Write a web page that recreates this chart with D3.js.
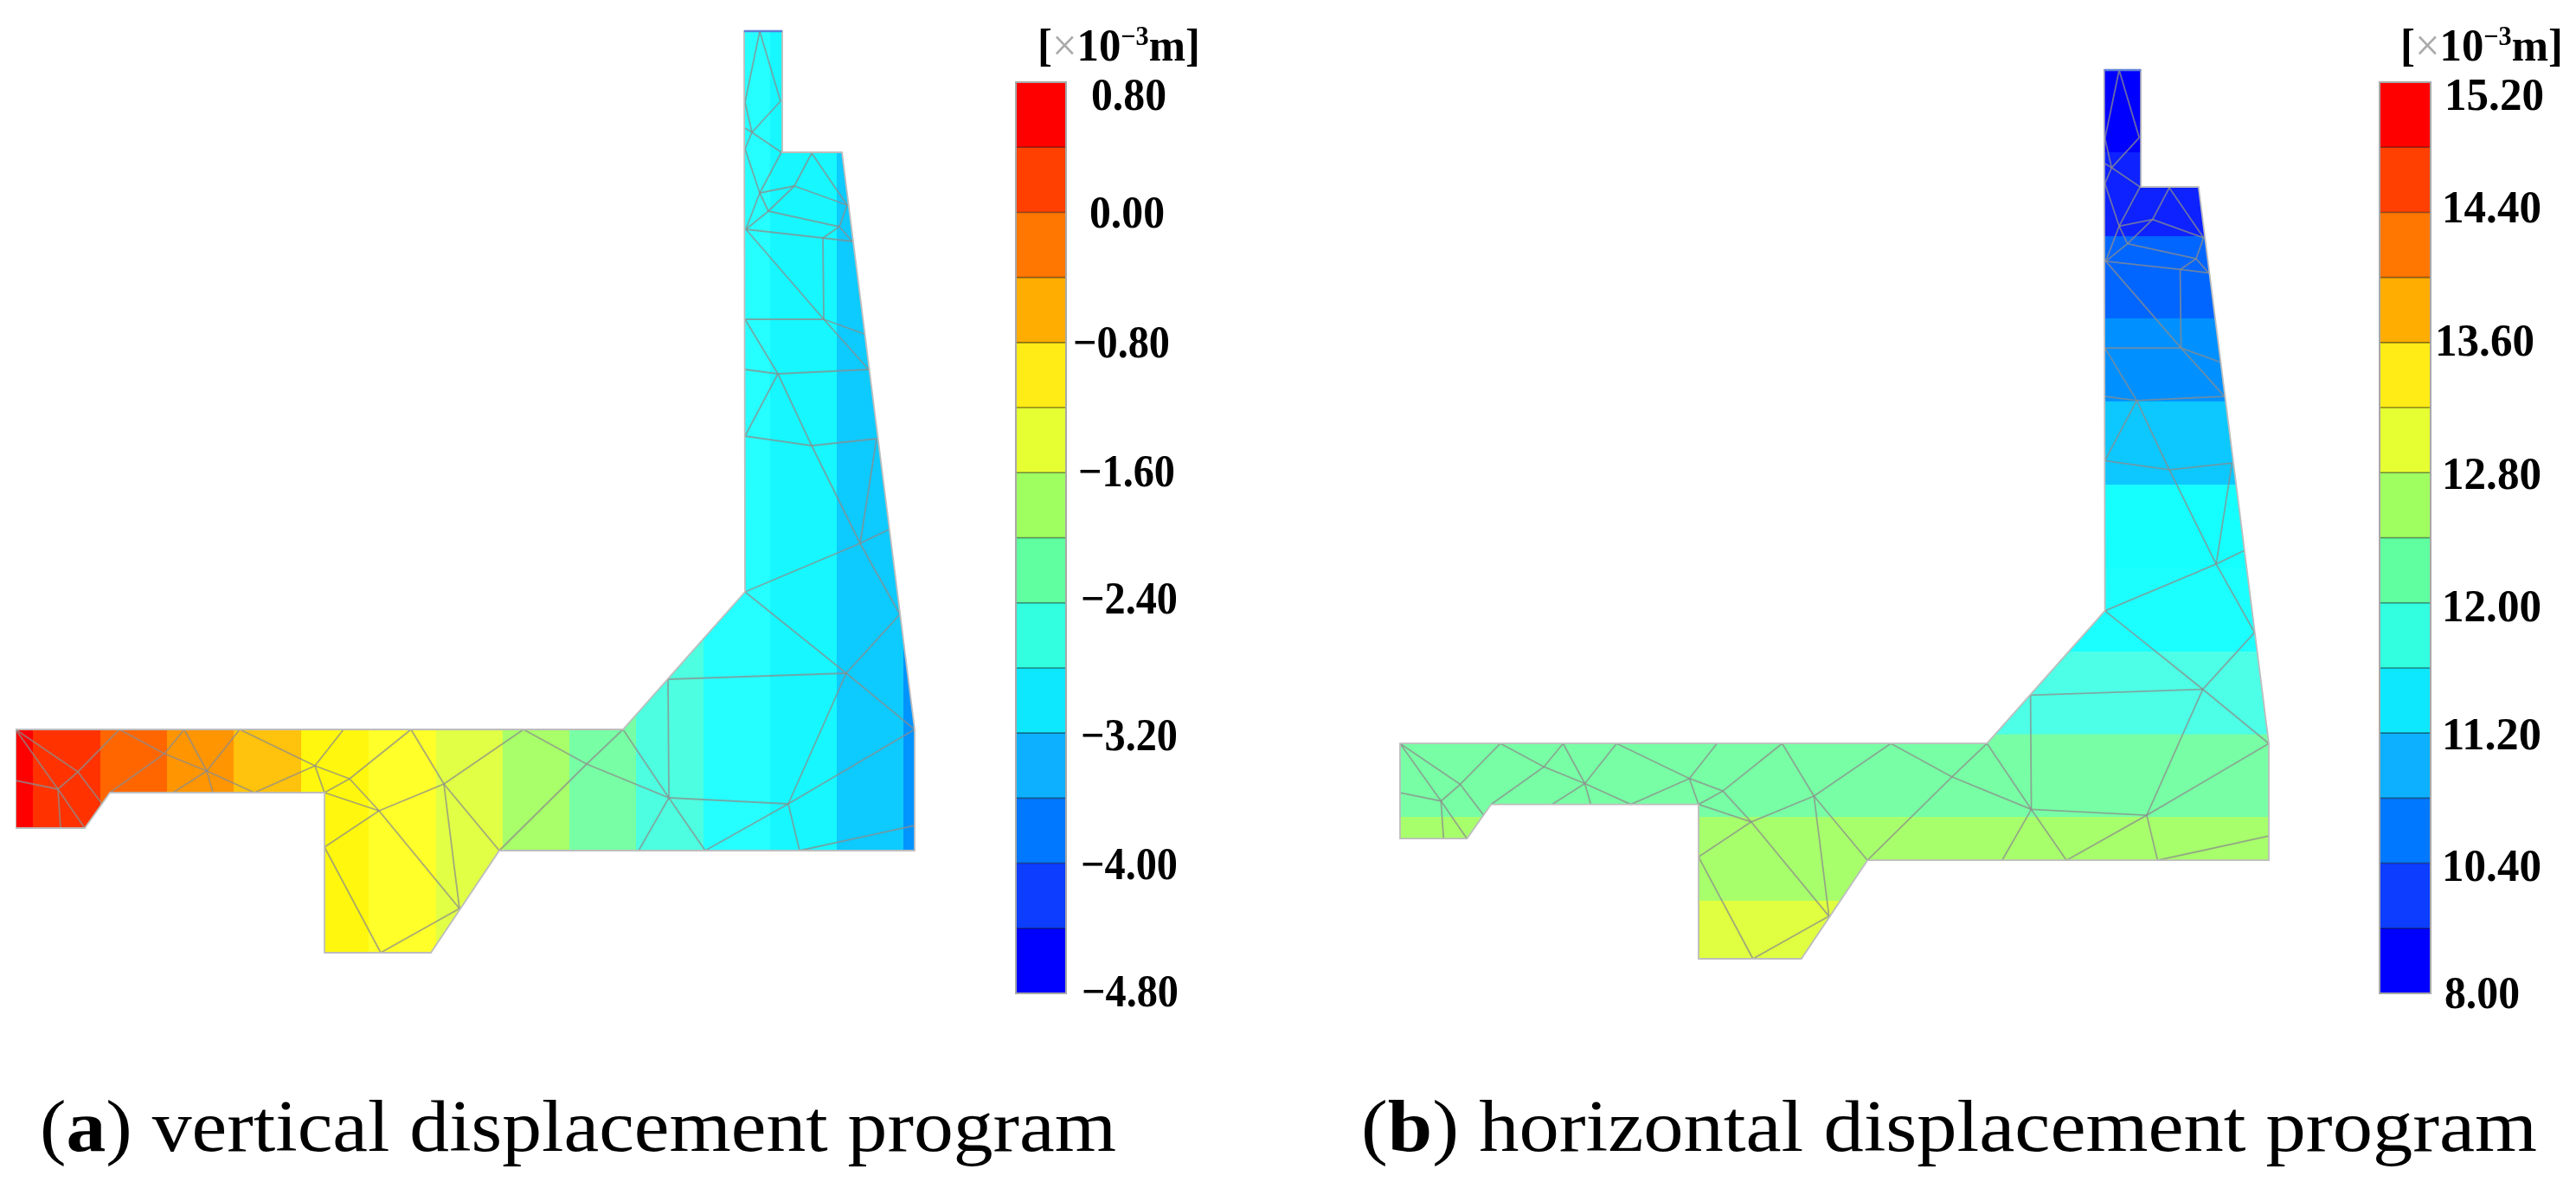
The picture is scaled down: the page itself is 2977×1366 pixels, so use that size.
<!DOCTYPE html>
<html lang="en">
<head>
    <meta charset="UTF-8">
    <title>Vertical and horizontal displacement</title>
    <script src="https://d3js.org/d3.v7.min.js"></script>
    <style>
        body { margin: 0; background: #fff; }
        svg { display: block; }
        text { font-family: "Liberation Serif", serif; fill: #000; }
        .tick-label { font-size: 52px; font-weight: bold; }
        .unit { font-size: 52px; font-weight: bold; }
        .caption { font-size: 84px; }
        .mesh { stroke: #8c8c8c; stroke-width: 1.8; stroke-opacity: 0.75; }
        .outline { fill: none; stroke: #bdbdbd; stroke-width: 1.8; }
    </style>
</head>
<body>
    <svg id="chart" width="2977" height="1366">
        <defs>
            <filter id="soft" x="0" y="0" width="100%" height="100%">
                <feGaussianBlur stdDeviation="0.7"></feGaussianBlur>
            </filter>
        </defs>
    </svg>

    <script>
        // dam section in model units
        const outline = [
            [860,36],[904,36],[904,176],[973,176],[1057,843],[1057,983],[577,983],[498,1101],
            [375,1101],[375,916],[127,916],[98,957],[18,957],[18,843],[720,843],[861,684]
        ];

        const meshNodes = {
            A:[878,36], B:[902,117], C:[861,118], D:[869,153], E:[861,148], F:[861,172], G:[903,176],
            H:[878,223], I:[938,177], J:[918,215], K:[979,237], L:[888,244], M:[970,262], N:[862,265],
            O:[951,275], P:[985,279], Q:[952,369], R:[861,369], S:[999,386], T:[1004,427], U:[899,432],
            V:[861,427], W:[861,504], X:[938,515], Y:[1013,507], Z:[994,628], AA:[1027,612], BB:[861,684],
            CC:[1040,710], DD:[978,778], EE:[1057,843], FF:[772,785], GG:[720,843], HH:[773,922],
            II:[678,883], JJ:[577,983], KK:[605,843], LL:[738,983], MM:[815,983], NN:[911,929],
            OO:[924,983], PP:[1057,954],
            a0:[18,843], a1:[90,892], a2:[67,912], a3:[18,902], a4:[138,843], a5:[190,871], a6:[118,929],
            a7:[70,957], a8:[98,957], a9:[213,843], a10:[239,891], a11:[277,843], a12:[364,885],
            a13:[200,916], a14:[246,916], a15:[294,916], a16:[397,843], a17:[404,900], a18:[375,916],
            a19:[127,916], a20:[475,843], a21:[438,937], a22:[531,1050], a23:[513,906], a25:[375,979],
            a26:[440,1101]
        };

        const meshEdges = [
            "A-C","A-B","C-D","B-D","E-D","F-D","D-G","F-H","G-H","I-J","H-J","J-K","I-K","H-L","J-L",
            "L-M","K-M","N-H","N-L","N-O","M-O","O-P","M-P","O-Q","N-Q","R-Q","Q-S","Q-T","R-U","V-U",
            "U-T","W-U","U-X","W-X","X-Y","X-Z","Y-Z","Z-AA","BB-Z","Z-CC","BB-DD","CC-DD","DD-EE",
            "DD-FF","FF-HH","GG-HH","GG-II","II-HH","II-JJ","II-KK","HH-LL","HH-MM","HH-NN","MM-NN",
            "NN-DD","NN-EE","NN-OO","OO-PP",
            "a0-a1","a0-a2","a3-a2","a1-a2","a4-a1","a4-a5","a1-a6","a5-a19","a2-a7","a2-a8","a9-a5",
            "a9-a10","a5-a10","a11-a10","a11-a12","a10-a13","a10-a14","a10-a15","a15-a12","a16-a12",
            "a12-a17","a12-a18","a18-a17","a17-a20","a18-a21","a17-a21","a21-a22","a21-a23","a20-a23",
            "a23-KK","a23-JJ","a23-a22","a21-a25","a25-a26","a22-a26"
        ];

        // contour bands
        const verticalEdges = [18,38,116,193,270,348,426,504,581,658,735,813,890,967,1044,1057];
        const verticalColors = ["#ff0000","#ff3300","#ff6600","#ff9500","#ffc20d","#fff70a","#ffff2b",
            "#e0ff44","#a8ff6a","#78ffa5","#4dffe0","#26ffff","#14f7ff","#0ccaff","#0094ff"];

        const horizontalEdges = [36,134.5,235,333.6,433,533,632,733,832,931,1031.5,1101];
        const horizontalColors = ["#0000ff","#0a20ff","#0066ff","#0090ff","#0ac8ff","#14ffff","#1effff",
            "#4dffe6","#78ffa5","#a8ff6c","#e0ff40"];

        // colour bars
        const legendColors = ["#ff0000","#ff4000","#ff7700","#ffad00","#ffeb14","#e6ff33","#a0ff60",
            "#60ff9f","#30ffe0","#10e8ff","#08b0ff","#0078ff","#0a3cff","#0000ff"];
        const verticalTicks = [0.8,0,-0.8,-1.6,-2.4,-3.2,-4,-4.8];
        const horizontalTicks = [15.2,14.4,13.6,12.8,12,11.2,10.4,8];

        const svg = d3.select("#chart");
        const fmt = v => (v < 0 ? "\u2212" : "") + d3.format(".2f")(Math.abs(v));

        function drawPanel(p) {
            const x = d3.scaleLinear().domain([18,1057]).range(p.xRange);
            const y = d3.scaleLinear().domain([36,1101]).range(p.yRange);
            const g = svg.append("g").attr("filter", "url(#soft)");
            const line = d3.line().x(d => x(d[0])).y(d => y(d[1])).curve(d3.curveLinearClosed);

            g.append("clipPath").attr("id", p.id)
                .append("path").attr("d", line(outline));

            const bands = g.append("g").attr("clip-path", `url(#${p.id})`);
            const cells = d3.pairs(p.edges).map((e, i) => ({ from: e[0], to: e[1], color: p.colors[i] }));
            if (p.dir === "x") {
                bands.selectAll("rect").data(cells).enter().append("rect")
                    .attr("x", d => x(d.from))
                    .attr("width", d => x(d.to) - x(d.from) + 0.5)
                    .attr("y", y(36)).attr("height", y(1101) - y(36))
                    .attr("fill", d => d.color);
            } else {
                bands.selectAll("rect").data(cells).enter().append("rect")
                    .attr("y", d => y(d.from))
                    .attr("height", d => y(d.to) - y(d.from) + 0.5)
                    .attr("x", x(18)).attr("width", x(1057) - x(18))
                    .attr("fill", d => d.color);
            }

            g.selectAll(".mesh").data(meshEdges).enter().append("line")
                .attr("class", "mesh")
                .attr("x1", d => x(meshNodes[d.split("-")[0]][0]))
                .attr("y1", d => y(meshNodes[d.split("-")[0]][1]))
                .attr("x2", d => x(meshNodes[d.split("-")[1]][0]))
                .attr("y2", d => y(meshNodes[d.split("-")[1]][1]));

            g.append("path").attr("class", "outline").attr("d", line(outline));

            // crest line is darker than the rest of the outline
            g.append("line")
                .attr("x1", x(860)).attr("x2", x(904))
                .attr("y1", y(36)).attr("y2", y(36))
                .attr("stroke", "#5f80d8").attr("stroke-width", 2.5);

            // colour bar
            const barTop = 95, barBottom = 1148;
            const idx = d3.scaleLinear().domain([0, legendColors.length]).range([barTop, barBottom]);
            const bar = g.append("g");
            bar.selectAll("rect").data(legendColors).enter().append("rect")
                .attr("x", p.barX).attr("width", p.barW)
                .attr("y", (d, i) => idx(i))
                .attr("height", (d, i) => idx(i + 1) - idx(i))
                .attr("fill", d => d);
            bar.selectAll("line").data(d3.range(1, legendColors.length)).enter().append("line")
                .attr("x1", p.barX).attr("x2", p.barX + p.barW)
                .attr("y1", d => idx(d)).attr("y2", d => idx(d))
                .attr("stroke", "#000").attr("stroke-opacity", 0.45).attr("stroke-width", 1.6);
            bar.append("rect")
                .attr("x", p.barX).attr("y", barTop)
                .attr("width", p.barW).attr("height", barBottom - barTop)
                .attr("fill", "none").attr("stroke", "#a8a8a8").attr("stroke-width", 2);

            // labels sit every second bar step, with the hand placement of the original
            const tickY = d3.scaleLinear().domain([0, p.ticks.length - 1]).range([barTop, barBottom]);
            g.selectAll(".tick-label").data(p.ticks).enter().append("text")
                .attr("class", "tick-label")
                .attr("x", (d, i) => p.labelX[i])
                .attr("y", (d, i) => tickY(i) + p.labelNudge[i])
                .attr("dominant-baseline", "central")
                .attr("textLength", d => d < 0 ? 112 : (d >= 10 ? 115 : 87))
                .attr("lengthAdjust", "spacingAndGlyphs")
                .text(fmt);

            // unit
            const unit = g.append("text").attr("class", "unit").attr("x", p.unitX).attr("y", 70)
                .attr("textLength", 188).attr("lengthAdjust", "spacingAndGlyphs");
            unit.append("tspan").text("[");
            unit.append("tspan").attr("font-weight", "normal").attr("fill", "#aaa").text("\u00d7");
            unit.append("tspan").text("10");
            unit.append("tspan").attr("dy", -18).attr("font-size", 31).text("\u22123");
            unit.append("tspan").attr("dy", 18).text("m]");

            // caption
            const cap = g.append("text").attr("class", "caption")
                .attr("x", p.capX).attr("y", 1330)
                .attr("textLength", p.capW).attr("lengthAdjust", "spacingAndGlyphs");
            cap.append("tspan").text("(");
            cap.append("tspan").attr("font-weight", "bold").text(p.capLetter);
            cap.append("tspan").text(") " + p.capText);
        }

        drawPanel({
            id: "clip-a", dir: "x", edges: verticalEdges, colors: verticalColors,
            xRange: [18,1057], yRange: [36,1101],
            barX: 1174, barW: 58,
            ticks: verticalTicks,
            labelX: [1261,1259,1240,1246,1249,1249,1249,1250],
            labelNudge: [14,0,0,-2,-5,2,1,-3],
            unitX: 1199,
            capX: 46, capW: 1244, capLetter: "a", capText: "vertical displacement program"
        });

        drawPanel({
            id: "clip-b", dir: "y", edges: horizontalEdges, colors: horizontalColors,
            xRange: [1618,2622], yRange: [81,1108],
            barX: 2750, barW: 59,
            ticks: horizontalTicks,
            labelX: [2825,2822,2814,2822,2822,2822,2822,2825],
            labelNudge: [14,-6,-2,1,4,1,3,-1],
            unitX: 2774,
            capX: 1573, capW: 1359, capLetter: "b", capText: "horizontal displacement program"
        });
    </script>

</body>
</html>
